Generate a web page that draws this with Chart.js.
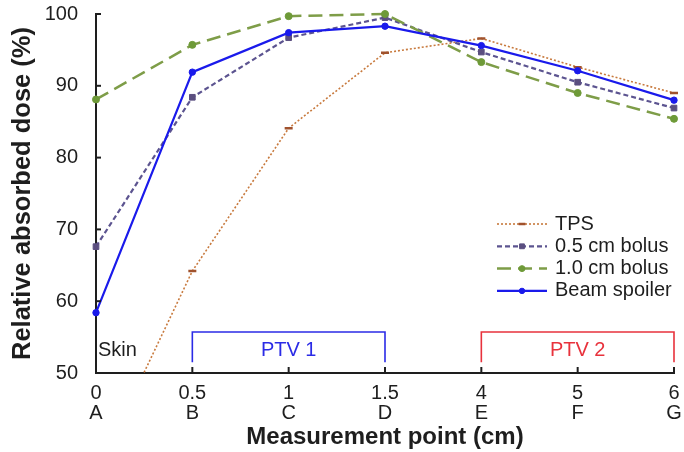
<!DOCTYPE html>
<html>
<head>
<meta charset="utf-8">
<script src="https://cdn.jsdelivr.net/npm/chart.js@4/dist/chart.umd.min.js"></script>
<style>
  html, body { margin: 0; padding: 0; background: #ffffff; }
  #wrap { width: 684px; height: 452px; position: relative; }
</style>
</head>
<body>
<div id="wrap"><canvas id="c" width="684" height="452"></canvas></div>
<script>
// ---- data ----
const pointLetters = ['A', 'B', 'C', 'D', 'E', 'F', 'G'];
const depthLabels  = ['0', '0.5', '1', '1.5', '4', '5', '6'];
const seriesNames  = ['TPS', '0.5 cm bolus', '1.0 cm bolus', 'Beam spoiler'];
const tpsValues    = [36.0, 64.2, 84.1, 94.6, 96.6, 92.6, 89.0];
const bolus05      = [67.6, 88.4, 96.7, 99.5, 94.7, 90.5, 86.9];
const bolus10      = [88.1, 95.7, 99.7, 100.0, 93.3, 89.0, 85.4];
const beamSpoiler  = [58.4, 91.9, 97.4, 98.3, 95.6, 92.1, 88.0];
const yTicks       = [50, 60, 70, 80, 90, 100];
const regions      = [
  { text: 'PTV 1', from: 1, to: 3, color: '#2b2be6' },
  { text: 'PTV 2', from: 4, to: 6, color: '#e8323c' }
];
const skinText = 'Skin';

const FONT = '"Liberation Sans", Arial, Helvetica, sans-serif';
const INK = '#1e1e1e';

const labels = pointLetters.map((l, i) => [depthLabels[i], l]);

const decorPlugin = {
  id: 'decor',
  afterDatasetsDraw(chart) {
    const ctx = chart.ctx;
    const xs = chart.scales.x, ys = chart.scales.y;
    const area = chart.chartArea;
    ctx.save();
    // inward tick marks
    ctx.strokeStyle = INK;
    ctx.lineWidth = 2;
    yTicks.forEach(v => {
      const py = ys.getPixelForValue(v);
      ctx.beginPath(); ctx.moveTo(area.left, py); ctx.lineTo(area.left + 5, py); ctx.stroke();
    });
    pointLetters.forEach((_, i) => {
      const px = xs.getPixelForValue(i);
      ctx.beginPath(); ctx.moveTo(px, area.bottom); ctx.lineTo(px, area.bottom - 6); ctx.stroke();
    });
    // region brackets
    const topY = ys.getPixelForValue(55.7);
    const botY = ys.getPixelForValue(51.5);
    const txtY = ys.getPixelForValue(53.2);
    regions.forEach(r => {
      const x1 = xs.getPixelForValue(r.from), x2 = xs.getPixelForValue(r.to);
      ctx.strokeStyle = r.color; ctx.lineWidth = 1.6;
      ctx.beginPath();
      ctx.moveTo(x1, botY); ctx.lineTo(x1, topY); ctx.lineTo(x2, topY); ctx.lineTo(x2, botY);
      ctx.stroke();
      ctx.fillStyle = r.color;
      ctx.font = '20px ' + FONT;
      ctx.textAlign = 'center'; ctx.textBaseline = 'middle';
      ctx.fillText(r.text, (x1 + x2) / 2, txtY);
    });
    ctx.fillStyle = INK;
    ctx.font = '20px ' + FONT;
    ctx.textAlign = 'left'; ctx.textBaseline = 'middle';
    ctx.fillText(skinText, area.left + 2, txtY);
    // legend
    const lx1 = 497, lx2 = 547, tx = 555, ly0 = 224, dy = 22.3;
    chart.data.datasets.forEach((ds, i) => {
      const y = ly0 + dy * i;
      ctx.strokeStyle = ds.borderColor;
      ctx.lineWidth = ds.borderWidth;
      ctx.setLineDash(ds.borderDash || []);
      ctx.beginPath(); ctx.moveTo(lx1, y); ctx.lineTo(lx2, y); ctx.stroke();
      ctx.setLineDash([]);
      ctx.fillStyle = ds.pointBackgroundColor;
      ctx.strokeStyle = ds.pointBorderColor;
      ctx.lineWidth = ds.pointBorderWidth;
      Chart.helpers.drawPoint(ctx, {
        pointStyle: ds.pointStyle, radius: ds.pointRadius * 0.85, rotation: 0,
        borderWidth: ds.pointBorderWidth
      }, (lx1 + lx2) / 2, y);
      ctx.fillStyle = INK;
      ctx.font = '20px ' + FONT;
      ctx.textAlign = 'left'; ctx.textBaseline = 'middle';
      ctx.fillText(ds.label, tx, y);
    });
    ctx.restore();
  }
};

new Chart(document.getElementById('c'), {
  type: 'line',
  data: {
    labels: labels,
    datasets: [
      {
        label: seriesNames[0], data: tpsValues, order: 3,
        borderColor: '#c87a3e', borderWidth: 1.6, borderDash: [2, 2],
        pointStyle: 'line', pointRadius: 4, pointBorderWidth: 2.5,
        pointBackgroundColor: '#a0522d', pointBorderColor: '#a0522d',
        tension: 0
      },
      {
        label: seriesNames[1], data: bolus05, order: 2, clip: false,
        borderColor: '#5c5490', borderWidth: 2.2, borderDash: [5, 3],
        pointStyle: 'rect', pointRadius: 4, pointBorderWidth: 1,
        pointBackgroundColor: '#5b4f80', pointBorderColor: '#5b4f80',
        tension: 0
      },
      {
        label: seriesNames[2], data: bolus10, order: 1, clip: false,
        borderColor: '#7e9d48', borderWidth: 2.5, borderDash: [14, 7],
        pointStyle: 'circle', pointRadius: 3.5, pointBorderWidth: 1,
        pointBackgroundColor: '#6e9a38', pointBorderColor: '#6e9a38',
        tension: 0
      },
      {
        label: seriesNames[3], data: beamSpoiler, order: 0, clip: false,
        borderColor: '#1a1aeb', borderWidth: 2.2,
        pointStyle: 'circle', pointRadius: 3.2, pointBorderWidth: 1,
        pointBackgroundColor: '#1a1aeb', pointBorderColor: '#1a1aeb',
        tension: 0
      }
    ]
  },
  options: {
    responsive: false,
    animation: false,
    layout: { padding: { top: 14, right: 10, bottom: 0, left: 0 } },
    plugins: { legend: { display: false }, tooltip: { enabled: false } },
    scales: {
      x: {
        type: 'category',
        offset: false,
        grid: { display: true, drawOnChartArea: false, drawTicks: false },
        border: { display: true, color: INK, width: 2 },
        ticks: { color: INK, font: { family: FONT, size: 20, lineHeight: 1.0 }, padding: 10, maxRotation: 0, autoSkip: false },
        title: { display: true, text: 'Measurement point (cm)', color: INK,
                 font: { family: FONT, size: 24, weight: 'bold', lineHeight: 1.2 }, padding: { top: 0, bottom: 0 } },
        afterFit(scale) { scale.height = 79; scale.paddingLeft = 0; scale.paddingRight = 0; }
      },
      y: {
        min: 50, max: 100,
        afterBuildTicks(scale) { scale.ticks = yTicks.map(v => ({ value: v })); },
        grid: { display: true, drawOnChartArea: false, drawTicks: false },
        border: { display: true, color: INK, width: 2 },
        ticks: { color: INK, font: { family: FONT, size: 20 }, padding: 18 },
        title: { display: true, text: 'Relative absorbed dose (%)', color: INK,
                 font: { family: FONT, size: 25.5, weight: 'bold', lineHeight: 1.2 }, padding: { top: 8, bottom: 0 } },
        afterFit(scale) { scale.width = 96; scale.paddingTop = 0; scale.paddingBottom = 0; }
      }
    }
  },
  plugins: [decorPlugin]
});
</script>
</body>
</html>
